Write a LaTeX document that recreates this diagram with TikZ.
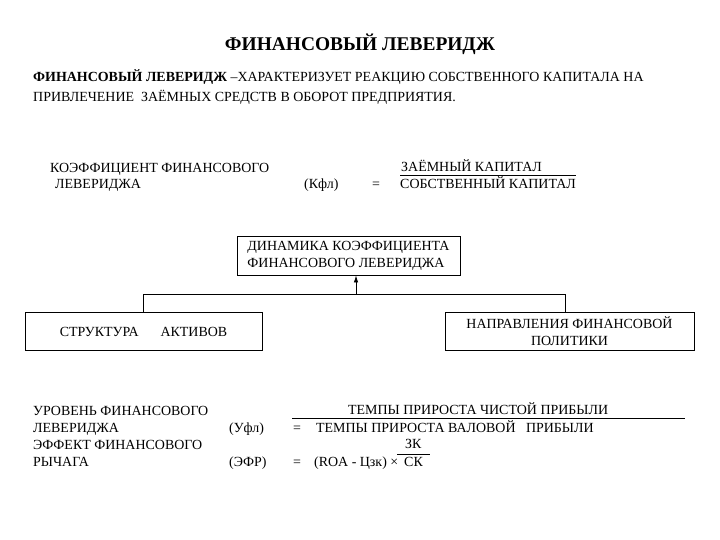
\documentclass[tikz,border=0pt]{standalone}
\usepackage{fontspec}
\setmainfont{Liberation Serif}
\usetikzlibrary{arrows.meta,positioning}
\tikzset{
  fl text/.style={
    font=\fontsize{14}{17}\selectfont,
    inner sep=0pt,
    align=left
  },
  fl box/.style={
    draw=black,
    line width=0.8pt,
    inner sep=0pt,
    font=\fontsize{14}{17}\selectfont
  },
  fl line/.style={line width=0.7pt},
  fl arrow/.style={-{Latex[length=2.5mm,width=1.6mm]},line width=0.8pt}
}
\begin{document}
\begin{tikzpicture}[x=1bp,y=-1bp]
  \useasboundingbox[fill=white] (0,0) rectangle (720,540);

  \node[font=\fontsize{19.5}{22}\selectfont\bfseries,inner sep=0pt,anchor=base] (title) at (360,51)
    {ФИНАНСОВЫЙ ЛЕВЕРИДЖ};

  % last line of a multi-line node sits on its base
  \node[fl text,anchor=base west] (def) at (33,102) {
    {\bfseries ФИНАНСОВЫЙ ЛЕВЕРИДЖ} –ХАРАКТЕРИЗУЕТ РЕАКЦИЮ СОБСТВЕННОГО КАПИТАЛА НА\\[4bp]
    ПРИВЛЕЧЕНИЕ \ ЗАЁМНЫХ СРЕДСТВ В ОБОРОТ ПРЕДПРИЯТИЯ.
  };

  % coefficient of financial leverage
  \node[fl text,anchor=base west] (kfl-name) at (50,189) {
    КОЭФФИЦИЕНТ ФИНАНСОВОГО\\
    \hspace{5bp}ЛЕВЕРИДЖА
  };
  \node[fl text,anchor=base west] (kfl) at (304,189) {(Кфл)};
  \node[fl text,anchor=base] (kfl-eq) at (376,189) {=};
  \node[fl text,anchor=base west] (kfl-num) at (401,172) {ЗАЁМНЫЙ КАПИТАЛ};
  \node[fl text,anchor=base west] (kfl-den) at (400,189) {СОБСТВЕННЫЙ КАПИТАЛ};
  \draw[fl line] ([yshift=2bp]kfl-den.north west) -- ([yshift=2bp]kfl-den.north east);

  % dynamics and its two factors
  \node[fl box,minimum width=223bp,minimum height=39bp,align=left]
    (dyn) at (348.5,255.5) {
    ДИНАМИКА КОЭФФИЦИЕНТА\\
    ФИНАНСОВОГО ЛЕВЕРИДЖА
  };
  \node[fl box,minimum width=237bp,minimum height=38bp] (assets) at (143.5,331.5)
    {СТРУКТУРА\hspace{22bp}АКТИВОВ};
  \node[fl box,minimum width=249bp,minimum height=38bp,align=center] (policy) at (569.5,331.5) {
    НАПРАВЛЕНИЯ ФИНАНСОВОЙ\\
    ПОЛИТИКИ
  };

  \coordinate (bus-w) at (143.5,294);
  \coordinate (bus-m) at (356,294);
  \coordinate (bus-e) at (565,294);
  \draw[fl line] (assets.north -| bus-w) -- (bus-w) -- (bus-e) -- (policy.north -| bus-e);
  \draw[fl arrow] (bus-m) -- (dyn.south -| bus-m);

  % level of leverage and leverage effect
  \node[fl text,anchor=base west] (ufl-name) at (33,466) {
    УРОВЕНЬ ФИНАНСОВОГО\\
    ЛЕВЕРИДЖА\\
    ЭФФЕКТ ФИНАНСОВОГО\\
    РЫЧАГА
  };
  \node[fl text,anchor=base west] (ufl) at (229,432) {(Уфл)};
  \node[fl text,anchor=base west] (efr) at (229,466) {(ЭФР)};

  \node[fl text,anchor=base west] (ufl-num) at (348,414) {ТЕМПЫ ПРИРОСТА ЧИСТОЙ ПРИБЫЛИ};
  \node[fl text,anchor=base west] (ufl-eq) at (293,432) {=};
  \node[fl text,anchor=base west] (ufl-den) at (316,432) {ТЕМПЫ ПРИРОСТА ВАЛОВОЙ \ \ ПРИБЫЛИ};
  \coordinate (ufl-bar-w) at (292,418);
  \coordinate (ufl-bar-e) at (685,418);
  \draw[fl line] (ufl-bar-w) -- (ufl-bar-e);

  \node[fl text,anchor=base west] (efr-eq) at (293,466) {=};
  \node[fl text,anchor=base west] (efr-left) at (314,466) {(ROA - Цзк) ×};
  \node[fl text,anchor=base west] (efr-den) at (404,466) {СК};
  \node[fl text,anchor=base west] (efr-num) at (405,448) {ЗК};
  \draw[fl line] ([xshift=-7bp,yshift=2bp]efr-den.north west) -- ([xshift=7bp,yshift=2bp]efr-den.north east);
\end{tikzpicture}
\end{document}
